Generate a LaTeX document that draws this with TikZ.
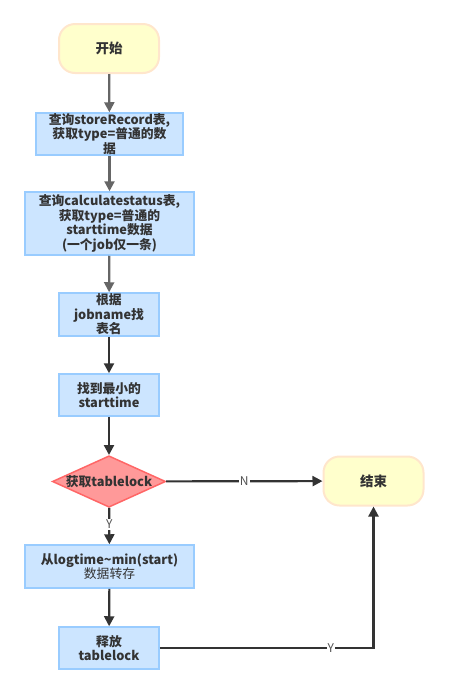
\documentclass[tikz,border=0pt]{standalone}
\usepackage{fontspec}
\setmainfont{Noto Sans CJK SC}
\usetikzlibrary{arrows.meta,shapes.geometric}
\definecolor{boxfill}{HTML}{CCE5FF}
\definecolor{boxline}{HTML}{99CCFF}
\definecolor{termfill}{HTML}{FFFFCC}
\definecolor{termline}{HTML}{FFE6CC}
\definecolor{diafill}{HTML}{FF9999}
\definecolor{dialine}{HTML}{FF6666}
\definecolor{lightarrow}{HTML}{666666}
\definecolor{darkarrow}{HTML}{333333}
\definecolor{txt}{HTML}{333333}
\tikzset{
  procbox/.style={draw=boxline, fill=boxfill, line width=1.5pt, minimum width=#1, inner sep=0pt, align=center, font=\fontsize{12.8}{14.5}\selectfont\bfseries, text=txt},
  term/.style={draw=termline, fill=termfill, line width=2pt, rounded corners=16pt, minimum width=100pt, minimum height=49pt, font=\fontsize{13.5}{15}\selectfont\bfseries, text=txt},
  decision/.style={diamond, draw=dialine, fill=diafill, line width=1.5pt, minimum width=113pt, minimum height=51pt, aspect=2.2, inner sep=0pt, font=\fontsize{12.8}{14}\selectfont\bfseries, text=txt},
  flow/.style={line width=2.2pt, -{Triangle[length=10pt,width=10pt]}},
  lbl/.style={fill=white, inner sep=1pt, font=\fontsize{12}{13}\selectfont, text=txt!85}
}
\begin{document}
\begin{tikzpicture}[x=1pt,y=-1pt]
\useasboundingbox (0,0) rectangle (449,694);
\node[term] (start) at (109,48.5) {开始};
\node[procbox=147pt, minimum height=42pt] (b1) at (109.5,134) {查询storeRecord表,\\获取type=普通的数\\据};
\node[procbox=169pt, minimum height=63pt] (b2) at (109.5,223.5) {查询calculatestatus表,\\获取type=普通的\\starttime数据\\(一个job仅一条)};
\node[procbox=100pt, minimum height=43pt] (b3) at (109,314.5) {根据\\jobname找\\表名};
\node[procbox=100pt, minimum height=42pt] (b4) at (109,395) {找到最小的\\starttime};
\node[decision] (d) at (109,481.5) {获取tablelock};
\node[term] (end) at (373.5,481) {结束};
\node[procbox=169pt, minimum height=43pt] (b5) at (109.5,566.5) {从logtime\textasciitilde min(start)\\\mdseries 数据转存};
\node[procbox=100pt, minimum height=42pt] (b6) at (109,648) {释放\\tablelock};
\draw[flow, lightarrow] (start) -- (b1);
\draw[flow, lightarrow] (b1) -- (b2);
\draw[flow, lightarrow] (b2) -- (b3);
\draw[flow, darkarrow] (b3) -- (b4);
\draw[flow, darkarrow] (b4) -- (d);
\draw[flow, darkarrow] (d) -- node[lbl, pos=0.5] {N} (end);
\draw[flow, darkarrow] (d) -- node[lbl, pos=0.45] {Y} (b5);
\draw[flow, darkarrow] (b5) -- (b6);
\draw[flow, darkarrow] (b6.east) -- node[lbl, pos=0.8] {Y} (b6.east -| end.south) -- (end.south);
\end{tikzpicture}
\end{document}
